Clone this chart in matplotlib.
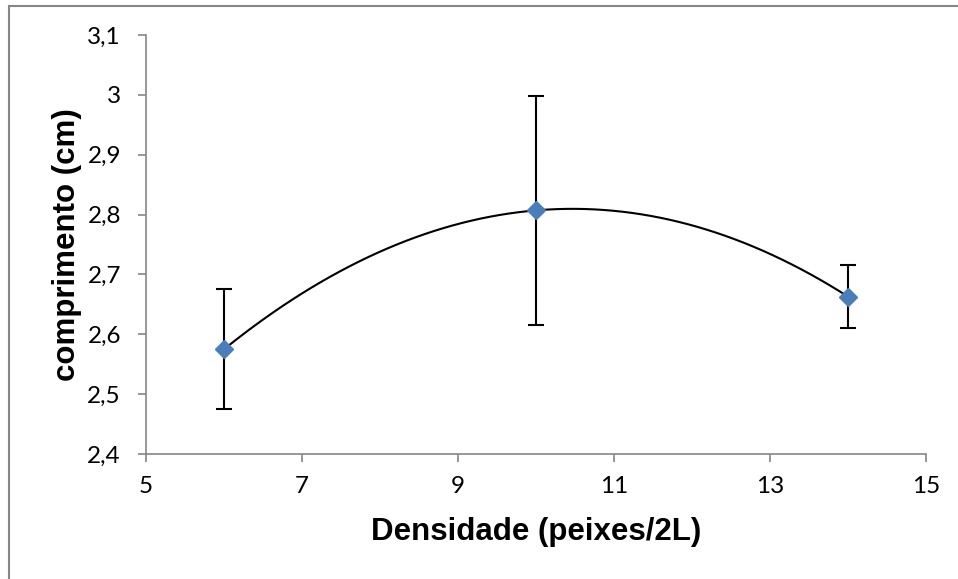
import numpy as np
import matplotlib
matplotlib.use("Agg")
import matplotlib.pyplot as plt
from matplotlib.patches import Rectangle

# dados
densidade = [6, 10, 14]
comprimento = [2.575, 2.807, 2.663]
erro = [0.100, 0.191, 0.053]

x_ticks = [5, 7, 9, 11, 13, 15]
y_ticks = [2.4, 2.5, 2.6, 2.7, 2.8, 2.9, 3.0, 3.1]

GRAY = "#868686"
BLUE = "#4A7EBB"

fig = plt.figure(figsize=(9.58, 5.79), dpi=100)
ax = fig.add_axes([146 / 958, 1 - 454 / 579, 780 / 958, 419 / 579])

# linha de tendência polinomial (ordem 2)
coef = np.polyfit(densidade, comprimento, 2)
xs = np.linspace(min(densidade), max(densidade), 200)
ax.plot(xs, np.polyval(coef, xs), color="black", lw=1.5, zorder=2)

ax.errorbar(densidade, comprimento, yerr=erro, fmt="none", ecolor="black",
            elinewidth=1.5, capsize=6, capthick=1.5, zorder=3)
ax.plot(densidade, comprimento, ls="none", marker="D", ms=9.5,
        color=BLUE, mec=BLUE, zorder=4)

ax.set_xlim(5, 15)
ax.set_ylim(2.4, 3.1)
ax.set_xticks(x_ticks)
ax.set_yticks(y_ticks)
ax.set_xticklabels([str(v) for v in x_ticks])
ax.set_yticklabels([f"{v:g}".replace(".", ",") for v in y_ticks])

for s in ["top", "right"]:
    ax.spines[s].set_visible(False)
for s in ["left", "bottom"]:
    ax.spines[s].set_color(GRAY)
    ax.spines[s].set_linewidth(1.2)
ax.tick_params(colors=GRAY, labelcolor="black", length=6, width=1.2,
               labelsize=17.5)
ax.tick_params(axis="x", pad=10)
ax.tick_params(axis="y", pad=12)
for lbl in ax.get_xticklabels() + ax.get_yticklabels():
    lbl.set_family("Lato")

ax.set_xlabel("Densidade (peixes/2L)", fontsize=22.5, fontweight="bold",
              family="Liberation Sans", labelpad=14)
ax.set_ylabel("comprimento (cm)", fontsize=22.5, fontweight="bold",
              family="Liberation Sans", labelpad=4)

# moldura externa do gráfico
fig.patches.append(Rectangle((9 / 958, -0.05), 1.2, 1 - 6 / 579 + 0.05,
                             transform=fig.transFigure, fill=False,
                             edgecolor=GRAY, lw=1.5))

fig.savefig("out.png", dpi=100)
